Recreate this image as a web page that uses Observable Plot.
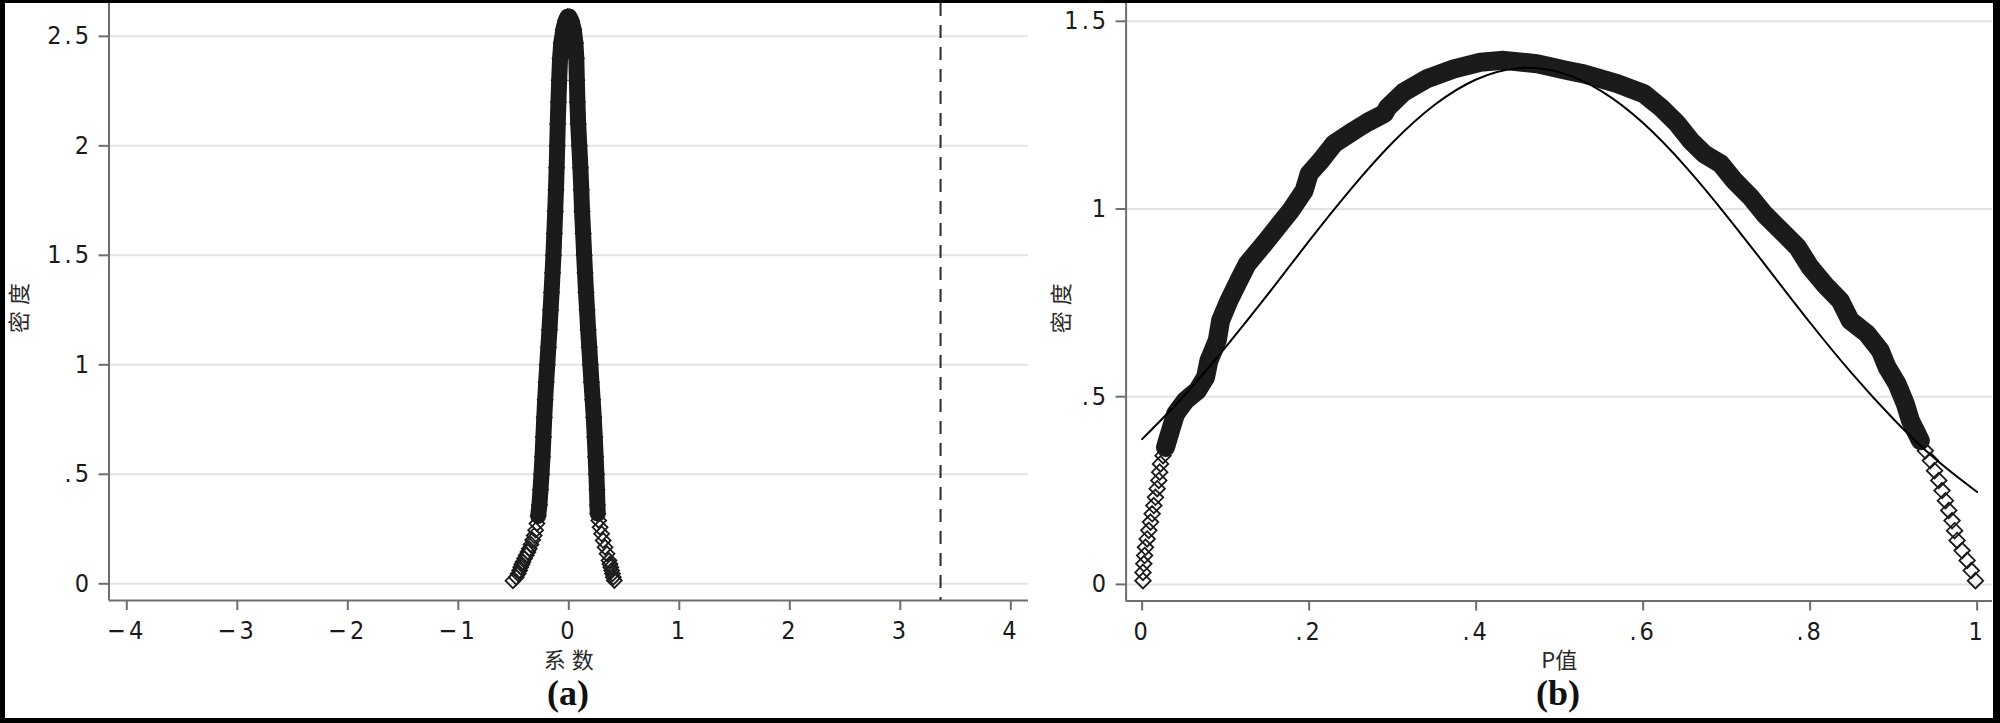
<!DOCTYPE html>
<html><head><meta charset="utf-8">
<script src="https://cdn.jsdelivr.net/npm/d3@7"></script>
<script src="https://cdn.jsdelivr.net/npm/@observablehq/plot@0.6"></script>
<style>
html,body{margin:0;padding:0;background:#000;}
#page{position:relative;width:2000px;height:723px;background:#000;overflow:hidden;}
#inner{position:absolute;left:5px;top:3px;width:1988px;height:715px;background:#fff;}
.panel{position:absolute;top:0;}
.cap{position:absolute;top:675px;font-family:"Liberation Serif","DejaVu Serif",serif;font-weight:bold;font-size:36px;line-height:36px;transform:translateX(-50%);color:#111;white-space:nowrap;}
svg [aria-label="x-axis tick label"] text, svg [aria-label="y-axis tick label"] text {letter-spacing:3px;}
</style></head>
<body><div id="page"><div id="inner"></div>
<div id="pa" class="panel" style="left:0"></div>
<div id="pb" class="panel" style="left:1000px"></div>
<div class="cap" style="left:568px">(a)</div>
<div class="cap" style="left:1558px">(b)</div>
</div>
<script>
// ---------- Panel (a): placebo coefficients and their density ----------
const coefA = [-0.505,-0.475,-0.458,-0.445,-0.435,-0.425,-0.415,-0.400,-0.385,-0.370,-0.358,-0.342,-0.327,-0.313,-0.300,-0.288,-0.277,-0.266,-0.256,-0.247,-0.238,-0.230,-0.222,-0.214,-0.205,-0.195,-0.185,-0.175,-0.165,-0.156,-0.147,-0.139,-0.131,-0.123,-0.116,-0.110,-0.105,-0.100,-0.094,-0.087,-0.079,-0.068,-0.050,-0.030,-0.012,
  0.005,0.025,0.045,0.060,0.068,0.073,0.078,0.085,0.095,0.105,0.113,0.120,0.130,0.139,0.147,0.156,0.165,0.175,0.185,0.195,0.205,0.216,0.226,0.235,0.243,0.250,0.255,0.259,0.262,0.271,0.283,0.297,0.311,0.328,0.346,0.364,0.372,0.380,0.388,0.395,0.403,0.412];
const densA = [0.014,0.030,0.046,0.061,0.076,0.088,0.099,0.115,0.130,0.145,0.160,0.180,0.200,0.220,0.245,0.275,0.310,0.360,0.430,0.500,0.580,0.670,0.760,0.840,0.920,1.000,1.080,1.160,1.250,1.330,1.420,1.500,1.600,1.700,1.800,1.900,2.000,2.100,2.200,2.300,2.400,2.470,2.530,2.570,2.590,
  2.590,2.570,2.530,2.470,2.400,2.300,2.200,2.100,2.000,1.900,1.800,1.700,1.600,1.500,1.420,1.330,1.250,1.160,1.080,1.000,0.920,0.840,0.760,0.670,0.580,0.500,0.430,0.360,0.320,0.289,0.258,0.228,0.198,0.167,0.137,0.106,0.090,0.076,0.061,0.046,0.030,0.015];
const trueCoef = [3.364];

// ---------- Panel (b): placebo p-values and their density ----------
const pB = [0.001,0.001,0.002,0.003,0.004,0.006,0.008,0.010,0.012,0.014,0.016,0.018,0.020,0.021,0.022,0.025,0.028,0.031,0.034,0.037,0.040,0.046,0.052,0.059,0.066,0.071,0.076,0.080,0.085,0.090,0.094,0.104,0.116,0.126,0.146,0.162,0.178,0.194,0.200,0.214,0.230,0.254,0.270,0.290,0.294,0.313,0.341,0.373,0.405,0.433,0.473,0.509,0.529,0.569,0.601,0.621,0.641,0.657,0.673,0.693,0.709,0.729,0.745,0.765,0.785,0.800,0.818,0.836,0.848,0.868,0.884,0.892,0.904,0.914,0.920,0.926,0.932,0.938,0.944,0.949,0.954,0.958,0.962,0.966,0.970,0.973,0.976,0.982,0.988,0.993,0.998];
const densB = [0.010,0.032,0.055,0.077,0.099,0.121,0.144,0.166,0.188,0.210,0.232,0.255,0.277,0.299,0.321,0.343,0.365,0.388,0.410,0.432,0.454,0.472,0.490,0.503,0.516,0.534,0.552,0.596,0.623,0.650,0.703,0.756,0.810,0.854,0.907,0.952,0.996,1.049,1.094,1.129,1.174,1.209,1.231,1.254,1.270,1.311,1.347,1.373,1.391,1.396,1.387,1.369,1.360,1.334,1.307,1.271,1.227,1.182,1.147,1.120,1.076,1.031,0.987,0.943,0.898,0.845,0.797,0.756,0.703,0.668,0.623,0.579,0.535,0.481,0.437,0.410,0.383,0.356,0.330,0.303,0.277,0.250,0.223,0.197,0.170,0.143,0.117,0.090,0.064,0.037,0.010];
const pNorm = [0,0.05,0.10,0.15,0.20,0.25,0.30,0.35,0.40,0.45,0.50,0.55,0.60,0.65,0.70,0.75,0.80,0.85,0.90,0.95,1.00];
const densNorm = [0.387,0.502,0.632,0.771,0.915,1.053,1.177,1.277,1.345,1.375,1.364,1.314,1.229,1.115,0.982,0.840,0.697,0.562,0.440,0.334,0.246];

// ---------- Ticks, labels, domains ----------
const xTicksA = [-4,-3,-2,-1,0,1,2,3,4];
const xTickLabelsA = ["−4","−3","−2","−1","0","1","2","3","4"];
const yTicksA = [0,0.5,1,1.5,2,2.5];
const yTickLabelsA = ["0",".5","1","1.5","2","2.5"];
const xTicksB = [0,0.2,0.4,0.6,0.8,1];
const xTickLabelsB = ["0",".2",".4",".6",".8","1"];
const yTicksB = [0,0.5,1,1.5];
const yTickLabelsB = ["0",".5","1","1.5"];
const xTitleA = "系数", yTitleA = "密度";
const xTitleB = "P值", yTitleB = "密度";
const xDomainA = [-4.161, 4.160], yDomainA = [-0.0763, 2.650];
const xDomainB = [-0.0192, 1.0184], yDomainB = [-0.0442, 1.5474];

const ptsA = coefA.map((c, i) => ({x: c, y: densA[i]}));
const ptsB = pB.map((p, i) => ({x: p, y: densB[i]}));
const normB = pNorm.map((p, i) => ({x: p, y: densNorm[i]}));

const numFont = '"Liberation Sans Narrow","Arial Narrow","DejaVu Sans Condensed",sans-serif';
const cjkFont = '"Noto Sans CJK SC","Noto Sans CJK JP",sans-serif';
const axisGray = "#6e6e6e";
const ink = "#1b1b1b";

function panel(o) {
  return Plot.plot({
    width: o.width, height: o.height,
    marginLeft: o.ml, marginRight: o.mr, marginTop: o.mt, marginBottom: o.mb,
    x: {domain: o.xDomain}, y: {domain: o.yDomain},
    style: `background:transparent;overflow:visible;max-width:none;font-family:${numFont};font-size:25px;`,
    marks: [
      Plot.gridY(o.yTicks, {stroke: "#e3e3e3", strokeOpacity: 1, strokeWidth: 2}),
      Plot.ruleX([o.xDomain[0]], {stroke: axisGray, strokeWidth: 2}),
      Plot.ruleY([o.yDomain[0]], {stroke: axisGray, strokeWidth: 2}),
      Plot.axisX(o.xTicks, {tickSize: 10, tickPadding: 11, stroke: axisGray, strokeWidth: 2, fill: "#1a1a1a", fontSize: 25, label: null,
        tickFormat: d => o.xLabels[o.xTicks.indexOf(d)]}),
      Plot.axisY(o.yTicks, {tickSize: 10, tickPadding: 7, stroke: axisGray, strokeWidth: 2, fill: "#1a1a1a", fontSize: 25, label: null,
        tickFormat: d => o.yLabels[o.yTicks.indexOf(d)]}),
      ...o.marks,
      Plot.text([o.xTitle], {text: d => d, frameAnchor: "bottom", dy: 60, dx: o.xTitleDx, lineAnchor: "middle", textAnchor: "middle",
        fontFamily: cjkFont, fontSize: 22, fill: "#2a2a2a"}),
      Plot.text([o.yTitle], {text: d => d, frameAnchor: "left", dx: o.yTitleDx, dy: 3, rotate: -90, lineAnchor: "middle", textAnchor: "middle",
        fontFamily: cjkFont, fontSize: 22, fill: "#2a2a2a"})
    ]
  });
}

function spaceTitles(svg, xSpacing, ySpacing) {
  const groups = svg.querySelectorAll('g[aria-label="text"]');
  const n = groups.length;
  groups[n - 2].querySelectorAll("text").forEach(t => t.style.letterSpacing = xSpacing);
  groups[n - 1].querySelectorAll("text").forEach(t => t.style.letterSpacing = ySpacing);
}

const plotA = panel({
  width: 1040, height: 723, ml: 108.5, mr: 12, mt: 3, mb: 123,
  xDomain: xDomainA, yDomain: yDomainA,
  xTicks: xTicksA, xLabels: xTickLabelsA, yTicks: yTicksA, yLabels: yTickLabelsA,
  xTitle: xTitleA, yTitle: yTitleA, yTitleDx: -89.5, xTitleDx: 3,
  marks: [
    Plot.ruleX(trueCoef, {stroke: "#2a2a2a", strokeWidth: 2, strokeDasharray: "13,9"}),
    Plot.line(ptsA.filter(d => d.y >= 0.3), {x: "x", y: "y", stroke: ink, strokeWidth: 16, strokeLinejoin: "round", strokeLinecap: "round"}),
    Plot.dot(ptsA, {x: "x", y: "y", symbol: "diamond2", r: 6.7, stroke: ink, strokeWidth: 1.8, fill: "none"})
  ]
});
spaceTitles(plotA, "6px", "6px");
document.getElementById("pa").appendChild(plotA);

const plotB = panel({
  width: 1000, height: 723, ml: 125.6, mr: 8, mt: 3, mb: 122.5,
  xDomain: xDomainB, yDomain: yDomainB,
  xTicks: xTicksB, xLabels: xTickLabelsB, yTicks: yTicksB, yLabels: yTickLabelsB,
  xTitle: xTitleB, yTitle: yTitleB, yTitleDx: -64.6, xTitleDx: 0,
  marks: [
    Plot.line(ptsB.filter(d => d.y >= 0.36), {x: "x", y: "y", stroke: ink, strokeWidth: 19, strokeLinejoin: "round", strokeLinecap: "round"}),
    Plot.dot(ptsB, {x: "x", y: "y", symbol: "diamond2", r: 7, stroke: ink, strokeWidth: 1.8, fill: "none"}),
    Plot.line(normB, {x: "x", y: "y", stroke: "#000", strokeWidth: 2, curve: "natural"})
  ]
});
spaceTitles(plotB, "0px", "6px");
document.getElementById("pb").appendChild(plotB);
</script>
</body></html>
